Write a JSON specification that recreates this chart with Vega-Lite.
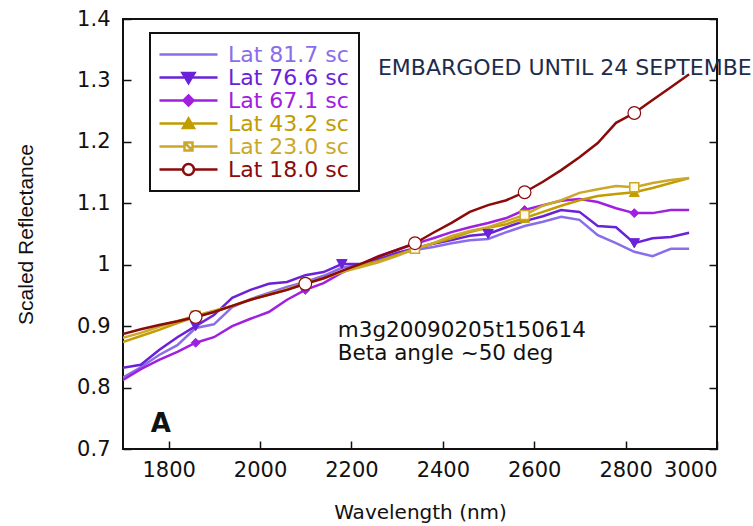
{
"$schema":"https://vega.github.io/schema/vega-lite/v6.json",
"width":594,"height":430,
"autosize":{"type":"none"},
"padding":{"left":123,"top":19,"right":36,"bottom":77},
"background":"white",
"config":{"view":{"stroke":"#111","strokeWidth":2},"axis":{"grid":false,"domain":false}},
"datasets":{"spectra":[
{"s":"Lat 81.7 sc","wl":1699,"v":0.816},{"s":"Lat 81.7 sc","wl":1739,"v":0.833},{"s":"Lat 81.7 sc","wl":1779,"v":0.853},{"s":"Lat 81.7 sc","wl":1819,"v":0.869},{"s":"Lat 81.7 sc","wl":1859,"v":0.897},{"s":"Lat 81.7 sc","wl":1899,"v":0.903},{"s":"Lat 81.7 sc","wl":1939,"v":0.931},{"s":"Lat 81.7 sc","wl":1979,"v":0.944},{"s":"Lat 81.7 sc","wl":2019,"v":0.954},{"s":"Lat 81.7 sc","wl":2059,"v":0.964},{"s":"Lat 81.7 sc","wl":2099,"v":0.972},{"s":"Lat 81.7 sc","wl":2139,"v":0.982},{"s":"Lat 81.7 sc","wl":2179,"v":0.995},{"s":"Lat 81.7 sc","wl":2219,"v":1.000},{"s":"Lat 81.7 sc","wl":2259,"v":1.008},{"s":"Lat 81.7 sc","wl":2299,"v":1.017},{"s":"Lat 81.7 sc","wl":2339,"v":1.024},{"s":"Lat 81.7 sc","wl":2379,"v":1.029},{"s":"Lat 81.7 sc","wl":2419,"v":1.035},{"s":"Lat 81.7 sc","wl":2459,"v":1.040},{"s":"Lat 81.7 sc","wl":2499,"v":1.042},{"s":"Lat 81.7 sc","wl":2539,"v":1.053},{"s":"Lat 81.7 sc","wl":2579,"v":1.063},{"s":"Lat 81.7 sc","wl":2619,"v":1.070},{"s":"Lat 81.7 sc","wl":2659,"v":1.078},{"s":"Lat 81.7 sc","wl":2699,"v":1.073},{"s":"Lat 81.7 sc","wl":2739,"v":1.048},{"s":"Lat 81.7 sc","wl":2779,"v":1.035},{"s":"Lat 81.7 sc","wl":2819,"v":1.021},{"s":"Lat 81.7 sc","wl":2859,"v":1.014},{"s":"Lat 81.7 sc","wl":2899,"v":1.026},{"s":"Lat 81.7 sc","wl":2939,"v":1.026},
{"s":"Lat 76.6 sc","wl":1699,"v":0.832},{"s":"Lat 76.6 sc","wl":1739,"v":0.837},{"s":"Lat 76.6 sc","wl":1779,"v":0.861},{"s":"Lat 76.6 sc","wl":1819,"v":0.882},{"s":"Lat 76.6 sc","wl":1859,"v":0.900},{"s":"Lat 76.6 sc","wl":1899,"v":0.918},{"s":"Lat 76.6 sc","wl":1939,"v":0.946},{"s":"Lat 76.6 sc","wl":1979,"v":0.959},{"s":"Lat 76.6 sc","wl":2019,"v":0.969},{"s":"Lat 76.6 sc","wl":2059,"v":0.972},{"s":"Lat 76.6 sc","wl":2099,"v":0.983},{"s":"Lat 76.6 sc","wl":2139,"v":0.988},{"s":"Lat 76.6 sc","wl":2179,"v":1.001},{"s":"Lat 76.6 sc","wl":2219,"v":1.001},{"s":"Lat 76.6 sc","wl":2259,"v":1.009},{"s":"Lat 76.6 sc","wl":2299,"v":1.019},{"s":"Lat 76.6 sc","wl":2339,"v":1.027},{"s":"Lat 76.6 sc","wl":2379,"v":1.034},{"s":"Lat 76.6 sc","wl":2419,"v":1.040},{"s":"Lat 76.6 sc","wl":2459,"v":1.047},{"s":"Lat 76.6 sc","wl":2499,"v":1.050},{"s":"Lat 76.6 sc","wl":2539,"v":1.061},{"s":"Lat 76.6 sc","wl":2579,"v":1.071},{"s":"Lat 76.6 sc","wl":2619,"v":1.079},{"s":"Lat 76.6 sc","wl":2659,"v":1.089},{"s":"Lat 76.6 sc","wl":2699,"v":1.086},{"s":"Lat 76.6 sc","wl":2739,"v":1.063},{"s":"Lat 76.6 sc","wl":2779,"v":1.061},{"s":"Lat 76.6 sc","wl":2819,"v":1.035},{"s":"Lat 76.6 sc","wl":2859,"v":1.043},{"s":"Lat 76.6 sc","wl":2899,"v":1.045},{"s":"Lat 76.6 sc","wl":2939,"v":1.052},
{"s":"Lat 67.1 sc","wl":1699,"v":0.812},{"s":"Lat 67.1 sc","wl":1739,"v":0.830},{"s":"Lat 67.1 sc","wl":1779,"v":0.845},{"s":"Lat 67.1 sc","wl":1819,"v":0.858},{"s":"Lat 67.1 sc","wl":1859,"v":0.873},{"s":"Lat 67.1 sc","wl":1899,"v":0.882},{"s":"Lat 67.1 sc","wl":1939,"v":0.900},{"s":"Lat 67.1 sc","wl":1979,"v":0.912},{"s":"Lat 67.1 sc","wl":2019,"v":0.923},{"s":"Lat 67.1 sc","wl":2059,"v":0.943},{"s":"Lat 67.1 sc","wl":2099,"v":0.959},{"s":"Lat 67.1 sc","wl":2139,"v":0.970},{"s":"Lat 67.1 sc","wl":2179,"v":0.987},{"s":"Lat 67.1 sc","wl":2219,"v":1.000},{"s":"Lat 67.1 sc","wl":2259,"v":1.014},{"s":"Lat 67.1 sc","wl":2299,"v":1.024},{"s":"Lat 67.1 sc","wl":2339,"v":1.034},{"s":"Lat 67.1 sc","wl":2379,"v":1.043},{"s":"Lat 67.1 sc","wl":2419,"v":1.053},{"s":"Lat 67.1 sc","wl":2459,"v":1.061},{"s":"Lat 67.1 sc","wl":2499,"v":1.068},{"s":"Lat 67.1 sc","wl":2539,"v":1.076},{"s":"Lat 67.1 sc","wl":2579,"v":1.089},{"s":"Lat 67.1 sc","wl":2619,"v":1.097},{"s":"Lat 67.1 sc","wl":2659,"v":1.104},{"s":"Lat 67.1 sc","wl":2699,"v":1.107},{"s":"Lat 67.1 sc","wl":2739,"v":1.102},{"s":"Lat 67.1 sc","wl":2779,"v":1.092},{"s":"Lat 67.1 sc","wl":2819,"v":1.084},{"s":"Lat 67.1 sc","wl":2859,"v":1.084},{"s":"Lat 67.1 sc","wl":2899,"v":1.089},{"s":"Lat 67.1 sc","wl":2939,"v":1.089},
{"s":"Lat 43.2 sc","wl":1699,"v":0.874},{"s":"Lat 43.2 sc","wl":1739,"v":0.884},{"s":"Lat 43.2 sc","wl":1779,"v":0.894},{"s":"Lat 43.2 sc","wl":1819,"v":0.905},{"s":"Lat 43.2 sc","wl":1859,"v":0.915},{"s":"Lat 43.2 sc","wl":1899,"v":0.923},{"s":"Lat 43.2 sc","wl":1939,"v":0.933},{"s":"Lat 43.2 sc","wl":1979,"v":0.943},{"s":"Lat 43.2 sc","wl":2019,"v":0.951},{"s":"Lat 43.2 sc","wl":2059,"v":0.959},{"s":"Lat 43.2 sc","wl":2099,"v":0.969},{"s":"Lat 43.2 sc","wl":2139,"v":0.978},{"s":"Lat 43.2 sc","wl":2179,"v":0.988},{"s":"Lat 43.2 sc","wl":2219,"v":0.998},{"s":"Lat 43.2 sc","wl":2259,"v":1.006},{"s":"Lat 43.2 sc","wl":2299,"v":1.016},{"s":"Lat 43.2 sc","wl":2339,"v":1.026},{"s":"Lat 43.2 sc","wl":2379,"v":1.035},{"s":"Lat 43.2 sc","wl":2419,"v":1.043},{"s":"Lat 43.2 sc","wl":2459,"v":1.053},{"s":"Lat 43.2 sc","wl":2499,"v":1.060},{"s":"Lat 43.2 sc","wl":2539,"v":1.066},{"s":"Lat 43.2 sc","wl":2579,"v":1.076},{"s":"Lat 43.2 sc","wl":2619,"v":1.086},{"s":"Lat 43.2 sc","wl":2659,"v":1.096},{"s":"Lat 43.2 sc","wl":2699,"v":1.105},{"s":"Lat 43.2 sc","wl":2739,"v":1.112},{"s":"Lat 43.2 sc","wl":2779,"v":1.115},{"s":"Lat 43.2 sc","wl":2819,"v":1.118},{"s":"Lat 43.2 sc","wl":2859,"v":1.125},{"s":"Lat 43.2 sc","wl":2899,"v":1.133},{"s":"Lat 43.2 sc","wl":2939,"v":1.141},
{"s":"Lat 23.0 sc","wl":1699,"v":0.881},{"s":"Lat 23.0 sc","wl":1739,"v":0.889},{"s":"Lat 23.0 sc","wl":1779,"v":0.899},{"s":"Lat 23.0 sc","wl":1819,"v":0.908},{"s":"Lat 23.0 sc","wl":1859,"v":0.917},{"s":"Lat 23.0 sc","wl":1899,"v":0.925},{"s":"Lat 23.0 sc","wl":1939,"v":0.933},{"s":"Lat 23.0 sc","wl":1979,"v":0.943},{"s":"Lat 23.0 sc","wl":2019,"v":0.952},{"s":"Lat 23.0 sc","wl":2059,"v":0.960},{"s":"Lat 23.0 sc","wl":2099,"v":0.970},{"s":"Lat 23.0 sc","wl":2139,"v":0.978},{"s":"Lat 23.0 sc","wl":2179,"v":0.988},{"s":"Lat 23.0 sc","wl":2219,"v":0.996},{"s":"Lat 23.0 sc","wl":2259,"v":1.004},{"s":"Lat 23.0 sc","wl":2299,"v":1.014},{"s":"Lat 23.0 sc","wl":2339,"v":1.026},{"s":"Lat 23.0 sc","wl":2379,"v":1.035},{"s":"Lat 23.0 sc","wl":2419,"v":1.047},{"s":"Lat 23.0 sc","wl":2459,"v":1.055},{"s":"Lat 23.0 sc","wl":2499,"v":1.061},{"s":"Lat 23.0 sc","wl":2539,"v":1.071},{"s":"Lat 23.0 sc","wl":2579,"v":1.081},{"s":"Lat 23.0 sc","wl":2619,"v":1.096},{"s":"Lat 23.0 sc","wl":2659,"v":1.105},{"s":"Lat 23.0 sc","wl":2699,"v":1.117},{"s":"Lat 23.0 sc","wl":2739,"v":1.123},{"s":"Lat 23.0 sc","wl":2779,"v":1.128},{"s":"Lat 23.0 sc","wl":2819,"v":1.126},{"s":"Lat 23.0 sc","wl":2859,"v":1.133},{"s":"Lat 23.0 sc","wl":2899,"v":1.138},{"s":"Lat 23.0 sc","wl":2939,"v":1.141},
{"s":"Lat 18.0 sc","wl":1699,"v":0.887},{"s":"Lat 18.0 sc","wl":1739,"v":0.895},{"s":"Lat 18.0 sc","wl":1779,"v":0.902},{"s":"Lat 18.0 sc","wl":1819,"v":0.908},{"s":"Lat 18.0 sc","wl":1859,"v":0.915},{"s":"Lat 18.0 sc","wl":1899,"v":0.923},{"s":"Lat 18.0 sc","wl":1939,"v":0.933},{"s":"Lat 18.0 sc","wl":1979,"v":0.943},{"s":"Lat 18.0 sc","wl":2019,"v":0.951},{"s":"Lat 18.0 sc","wl":2059,"v":0.959},{"s":"Lat 18.0 sc","wl":2099,"v":0.969},{"s":"Lat 18.0 sc","wl":2139,"v":0.978},{"s":"Lat 18.0 sc","wl":2179,"v":0.990},{"s":"Lat 18.0 sc","wl":2219,"v":1.001},{"s":"Lat 18.0 sc","wl":2259,"v":1.013},{"s":"Lat 18.0 sc","wl":2299,"v":1.024},{"s":"Lat 18.0 sc","wl":2339,"v":1.035},{"s":"Lat 18.0 sc","wl":2379,"v":1.052},{"s":"Lat 18.0 sc","wl":2419,"v":1.068},{"s":"Lat 18.0 sc","wl":2459,"v":1.086},{"s":"Lat 18.0 sc","wl":2499,"v":1.097},{"s":"Lat 18.0 sc","wl":2539,"v":1.105},{"s":"Lat 18.0 sc","wl":2579,"v":1.118},{"s":"Lat 18.0 sc","wl":2619,"v":1.135},{"s":"Lat 18.0 sc","wl":2659,"v":1.154},{"s":"Lat 18.0 sc","wl":2699,"v":1.175},{"s":"Lat 18.0 sc","wl":2739,"v":1.198},{"s":"Lat 18.0 sc","wl":2779,"v":1.231},{"s":"Lat 18.0 sc","wl":2819,"v":1.247},{"s":"Lat 18.0 sc","wl":2859,"v":1.268},{"s":"Lat 18.0 sc","wl":2899,"v":1.289},{"s":"Lat 18.0 sc","wl":2939,"v":1.310}
]},
"layer":[
{"data":{"name":"spectra"},
 "mark":{"type":"line","strokeWidth":2.5,"clip":true},
 "encoding":{
  "x":{"field":"wl","type":"quantitative","scale":{"domain":[1700,3000],"nice":false,"zero":false},
       "axis":{"values":[1800,2000,2200,2400,2600,2800,3000],"format":"d","tickSize":-8,"tickColor":"#111","tickWidth":1.5,"labelPadding":18,"labelFont":"DejaVu Sans","labelFontSize":21,"labelColor":"#111","title":"Wavelength (nm)","titleFont":"DejaVu Sans","titleFontSize":20,"titleFontWeight":"normal","titleColor":"#111","titlePadding":22}},
  "y":{"field":"v","type":"quantitative","scale":{"domain":[0.7,1.4],"nice":false,"zero":false},
       "axis":{"orient":"left","values":[0.7,0.8,0.9,1,1.1,1.2,1.3,1.4],"labelExpr":"datum.value == 1 ? '1' : format(datum.value, '.1f')","tickSize":-8,"tickColor":"#111","tickWidth":1.5,"labelPadding":21,"labelFont":"DejaVu Sans","labelFontSize":21,"labelColor":"#111","title":"Scaled Reflectance","titleFont":"Liberation Sans","titleFontSize":21,"titleFontWeight":"normal","titleColor":"#111","titlePadding":40}},
  "stroke":{"field":"s","type":"nominal",
   "scale":{"domain":["Lat 81.7 sc","Lat 76.6 sc","Lat 67.1 sc","Lat 43.2 sc","Lat 23.0 sc","Lat 18.0 sc"],"range":["#8a6de9","#6a22d8","#a020e0","#c29c00","#cba829","#8b0a0a"]},
   "legend":{"orient":"none","legendX":27,"legendY":14,"title":null,"padding":10,"strokeColor":"#111","fillColor":"white",
     "symbolType":"M-1.2,0H4.6","symbolSize":400,"symbolStrokeWidth":2.5,"labelFont":"DejaVu Sans","labelFontSize":22,"labelOffset":45,"rowPadding":0,"labelLimit":400,
     "encode":{
      "legend":{"update":{"strokeWidth":{"value":2}}},
      "labels":{"update":{"fill":{"scale":"stroke","field":"value"}}},
      "symbols":{"update":{
        "shape":{"signal":"datum.value=='Lat 76.6 sc' ? 'M-1.2,0H4.6M1.1,-0.45L2.3,-0.45L1.7,0.55Z' : datum.value=='Lat 67.1 sc' ? 'M-1.2,0H4.6M1.7,-0.5L2.2,0L1.7,0.5L1.2,0Z' : datum.value=='Lat 43.2 sc' ? 'M-1.2,0H4.6M1.15,0.45L2.25,0.45L1.7,-0.5Z' : datum.value=='Lat 23.0 sc' ? 'M-1.2,0H1.3M2.1,0H4.6M1.3,-0.4H2.1V0.4H1.3ZM1.3,-0.4L2.1,0.4' : datum.value=='Lat 18.0 sc' ? 'M-1.2,0H1.15M2.25,0H4.6M1.15,0A0.55,0.55,0,1,0,2.25,0A0.55,0.55,0,1,0,1.15,0Z' : 'M-1.2,0H4.6'"},
        "fill":{"signal":"(datum.value=='Lat 23.0 sc' || datum.value=='Lat 18.0 sc') ? 'white' : datum.value=='Lat 81.7 sc' ? 'transparent' : scale('stroke', datum.value)"},
        "stroke":{"scale":"stroke","field":"value"},
        "strokeWidth":{"value":2.5},
        "opacity":{"value":1}
      }}
     }}
  }
 }},
{"data":{"name":"spectra"},
 "transform":[{"filter":"datum.s=='Lat 76.6 sc' && indexof([1859,2179,2499,2819], datum.wl) >= 0"}],
 "mark":{"type":"point","shape":"triangle-down","filled":true,"fill":"#6a22d8","stroke":"#6a22d8","strokeWidth":1,"size":110,"opacity":1},
 "encoding":{
  "x":{"field":"wl","type":"quantitative"},
  "y":{"field":"v","type":"quantitative","axis":{"orient":"right","values":[0.7,0.8,0.9,1,1.1,1.2,1.3,1.4],"labels":false,"tickSize":-8,"tickColor":"#111","tickWidth":1.5,"title":null}}
 }},
{"data":{"name":"spectra"},
 "transform":[{"filter":"datum.s=='Lat 67.1 sc' && indexof([1859,2099,2339,2579,2819], datum.wl) >= 0"}],
 "mark":{"type":"point","shape":"diamond","filled":true,"fill":"#a020e0","stroke":"#a020e0","strokeWidth":1,"size":80,"opacity":1},
 "encoding":{"x":{"field":"wl","type":"quantitative"},"y":{"field":"v","type":"quantitative","axis":null}}},
{"data":{"name":"spectra"},
 "transform":[{"filter":"datum.s=='Lat 43.2 sc' && indexof([1859,2099,2339,2579,2819], datum.wl) >= 0"}],
 "mark":{"type":"point","shape":"triangle-up","filled":true,"fill":"#c29c00","stroke":"#c29c00","strokeWidth":1,"size":100,"opacity":1},
 "encoding":{"x":{"field":"wl","type":"quantitative"},"y":{"field":"v","type":"quantitative","axis":null}}},
{"data":{"name":"spectra"},
 "transform":[{"filter":"datum.s=='Lat 23.0 sc' && indexof([1859,2099,2339,2579,2819], datum.wl) >= 0"}],
 "mark":{"type":"point","shape":"square","filled":true,"fill":"#fffbe8","stroke":"#cba829","strokeWidth":1.5,"size":80,"opacity":1},
 "encoding":{"x":{"field":"wl","type":"quantitative"},"y":{"field":"v","type":"quantitative","axis":null}}},
{"data":{"name":"spectra"},
 "transform":[{"filter":"datum.s=='Lat 18.0 sc' && indexof([1859,2099,2339,2579,2819], datum.wl) >= 0"}],
 "mark":{"type":"point","shape":"circle","filled":true,"fill":"white","stroke":"#8b0a0a","strokeWidth":1.2,"size":160,"opacity":1},
 "encoding":{"x":{"field":"wl","type":"quantitative"},"y":{"field":"v","type":"quantitative","axis":null}}},
{"data":{"values":[{"wl":2258,"v":1.32,"t":"EMBARGOED UNTIL 24 SEPTEMBER 2009"}]},
 "mark":{"type":"text","align":"left","baseline":"middle","font":"DejaVu Sans","fontSize":22,"color":"#1c2c4c"},
 "encoding":{"x":{"field":"wl","type":"quantitative"},"y":{"field":"v","type":"quantitative","axis":null},"text":{"field":"t"}}},
{"data":{"values":[{"wl":2170,"v":0.892,"t":"m3g20090205t150614"},{"wl":2170,"v":0.854,"t":"Beta angle ~50 deg"}]},
 "mark":{"type":"text","align":"left","baseline":"middle","font":"DejaVu Sans","fontSize":21.5,"color":"#111"},
 "encoding":{"x":{"field":"wl","type":"quantitative"},"y":{"field":"v","type":"quantitative","axis":null},"text":{"field":"t"}}},
{"data":{"values":[{"wl":1783,"v":0.741,"t":"A"}]},
 "mark":{"type":"text","align":"center","baseline":"middle","font":"DejaVu Sans","fontSize":26,"fontWeight":"bold","color":"#111"},
 "encoding":{"x":{"field":"wl","type":"quantitative"},"y":{"field":"v","type":"quantitative","axis":null},"text":{"field":"t"}}}
],
"resolve":{"axis":{"y":"independent"}}
}
